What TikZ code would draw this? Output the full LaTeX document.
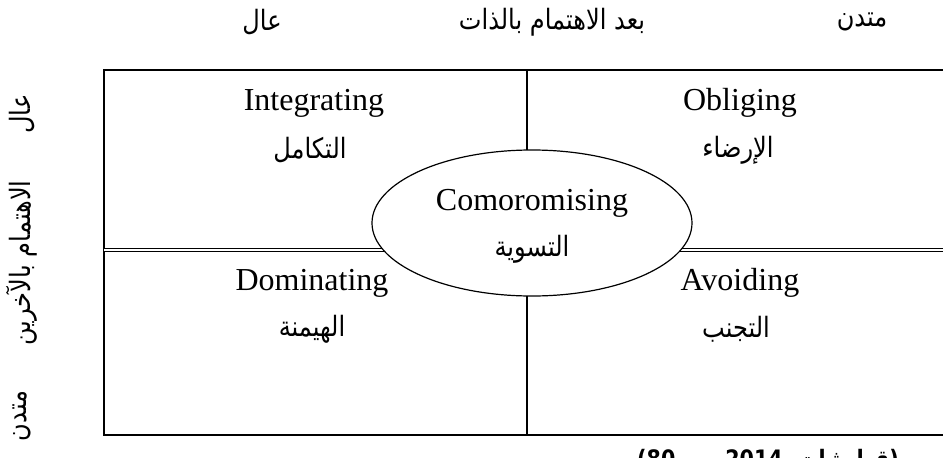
\documentclass[tikz,border=0pt]{standalone}
\usepackage{fontspec}
\usetikzlibrary{shapes.geometric}
\setmainfont{Liberation Serif}
\newfontfamily\arabicfont[Script=Arabic, FakeStretch=0.86]{DejaVu Sans}
\TeXXeTstate=1
\newcommand\artext[1]{{\arabicfont\beginR #1\endR}}

\begin{document}
\begin{tikzpicture}[x=1pt,y=-1pt,
  en/.style={font=\fontsize{32}{36}\selectfont, inner sep=0pt},
  arl/.style={font=\arabicfont\fontsize{28}{32}\selectfont, inner sep=0pt},
  head/.style={font=\arabicfont\fontsize{28}{32}\selectfont, inner sep=0pt},
  side/.style={font=\arabicfont\fontsize{28}{32}\selectfont, inner sep=0pt, rotate=90},
  frame/.style={line width=1.8pt},
  divider/.style={line width=1.2pt},
  oval/.style={ellipse, draw, line width=1.2pt, fill=white,
    minimum width=320pt, minimum height=146pt, inner sep=0pt}]
\useasboundingbox (0,0) rectangle (943,458);

% corners of the grid (right edge runs past the page)
\coordinate (tl) at (104,70);
\coordinate (br) at (965,435);
\coordinate (ml) at (104,250);
\coordinate (mr) at (965,250);
\coordinate (vt) at (527,70);
\coordinate (vb) at (527,435);

% outer frame, double middle rule and vertical divider
\draw[frame] (tl) rectangle (br);
\draw[divider, double, double distance=2.2pt] (ml) -- (mr);
\draw[divider] (vt) -- (vb);

% central compromising style
\node[oval] (cmp) at (532,223) {};
\node[en] (cmpen) at (532,203) {Comoromising};
\node[arl] (cmpar) at (532,249) {\artext{التسوية}};

% quadrant labels
\node[en] (integ) at (314,103) {Integrating};
\node[arl] (integar) at (310,150) {\artext{التكامل}};
\node[en] (oblig) at (740,103) {Obliging};
\node[arl] (obligar) at (738,150) {\artext{الإرضاء}};
\node[en] (domin) at (312,283) {Dominating};
\node[arl] (dominar) at (312,329) {\artext{الهيمنة}};
\node[en] (avoid) at (740,283) {Avoiding};
\node[arl] (avoidar) at (736,329) {\artext{التجنب}};

% axis headings
\node[head] (hhigh) at (262,22) {\artext{عال}};
\node[head] (htitle) at (552,22) {\artext{بعد الاهتمام بالذات}};
\node[head] (hlow) at (862,22) {\artext{متدن}};

\node[side] (vhigh) at (22,114) {\artext{عال}};
\node[side] (vtitle) at (22,263) {\artext{الاهتمام بالآخرين}};
\node[side] (vlow) at (22,416) {\artext{متدن}};

% source line, partly running off the page
\node[anchor=west, inner sep=0pt, font=\arabicfont\bfseries\fontsize{24}{28}\selectfont] (src) at (637,461)
  {\artext{(قطيشات، \beginL 2014\endL، ص \beginL 80\endL)}};
\end{tikzpicture}
\end{document}
